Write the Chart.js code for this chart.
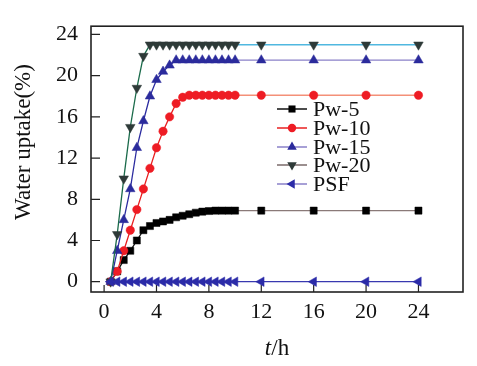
<!DOCTYPE html>
<html>
<head>
<meta charset="utf-8">
<script src="https://cdn.jsdelivr.net/npm/chart.js@4/dist/chart.umd.min.js"></script>
<style>
    html, body { margin: 0; padding: 0; background: #fff; }
</style>
</head>
<body>
<canvas id="chart" width="477" height="366"></canvas>
<script>
const hours = [0.5, 1, 1.5, 2, 2.5, 3, 3.5, 4, 4.5, 5, 5.5, 6, 6.5, 7, 7.5, 8, 8.5, 9, 9.5, 10, 12, 16, 20, 24];

const pw5  = [0, 1.0, 2.1, 3.0, 4.0, 5.0, 5.4, 5.7, 5.85, 6.0, 6.25, 6.4, 6.55, 6.7, 6.8, 6.86, 6.9, 6.9, 6.9, 6.9, 6.9, 6.9, 6.9, 6.9];
const pw10 = [0, 1.0, 3.0, 5.0, 7.0, 9.0, 11.0, 13.0, 14.6, 16.0, 17.3, 17.9, 18.1, 18.1, 18.1, 18.1, 18.1, 18.1, 18.1, 18.1, 18.1, 18.1, 18.1, 18.1];
const pw15 = [0, 3.0, 6.0, 9.0, 13.0, 15.6, 18.0, 19.6, 20.4, 21.0, 21.5, 21.5, 21.5, 21.5, 21.5, 21.5, 21.5, 21.5, 21.5, 21.5, 21.5, 21.5, 21.5, 21.5];
const pw20 = [0, 4.6, 10.0, 15.0, 18.8, 21.9, 23.0, 23.0, 23.0, 23.0, 23.0, 23.0, 23.0, 23.0, 23.0, 23.0, 23.0, 23.0, 23.0, 23.0, 23.0, 23.0, 23.0, 23.0];
const psf  = [0, 0, 0, 0, 0, 0, 0, 0, 0, 0, 0, 0, 0, 0, 0, 0, 0, 0, 0, 0, 0, 0, 0, 0];

const seriesNames = ['Pw-5', 'Pw-10', 'Pw-15', 'Pw-20', 'PSF'];
const xTicks = [0, 4, 8, 12, 16, 20, 24];
const yTicks = [0, 4, 8, 12, 16, 20, 24];

const FONT = '"Liberation Serif", "Times New Roman", serif';

// line colour before / after the 10 h point, marker look, legend line colour
const styles = [
    { early: '#111111', late: '#8a7a78', marker: '#000000', shape: 'rect', radius: 5, rot: 0, legend: '#111111' },
    { early: '#e82020', late: '#f49078', marker: '#ee1c24', shape: 'circle', radius: 4.2, rot: 0, legend: '#e82020' },
    { early: '#2c2ca0', late: '#8a80c8', marker: '#2b2b9c', shape: 'triangle', radius: 5.5, rot: 0, legend: '#8a80c8' },
    { early: '#1b6b4b', late: '#50b8e0', marker: '#2e3a38', shape: 'triangle', radius: 5.5, rot: 180, legend: '#7a6a6a' },
    { early: '#3030b0', late: '#3838b0', marker: '#2b2ba8', shape: 'triangle', radius: 5.5, rot: -90, legend: '#8a80c8' }
];

const values = [pw5, pw10, pw15, pw20, psf];

const datasets = values.map((vals, i) => {
    const s = styles[i];
    return {
        label: seriesNames[i],
        data: hours.map((h, k) => ({ x: h, y: vals[k] })),
        borderColor: s.early,
        borderWidth: 1.3,
        backgroundColor: s.marker,
        pointBackgroundColor: s.marker,
        pointBorderColor: s.marker,
        pointBorderWidth: 0.5,
        pointStyle: s.shape,
        pointRadius: s.radius,
        pointRotation: s.rot,
        order: 4 - i,
        segment: {
            borderColor: ctx => ctx.p0.parsed.x >= 10 ? s.late : s.early
        }
    };
});

function drawMarker(ctx, shape, x, y, r, rot, color) {
    ctx.save();
    ctx.translate(x, y);
    ctx.rotate(rot * Math.PI / 180);
    ctx.fillStyle = color;
    ctx.beginPath();
    if (shape === 'rect') {
        const h = r * Math.SQRT1_2;
        ctx.rect(-h, -h, 2 * h, 2 * h);
    } else if (shape === 'circle') {
        ctx.arc(0, 0, r, 0, Math.PI * 2);
    } else {
        ctx.moveTo(0, -r);
        ctx.lineTo(r * Math.sin(Math.PI / 3), r * 0.5);
        ctx.lineTo(-r * Math.sin(Math.PI / 3), r * 0.5);
        ctx.closePath();
    }
    ctx.fill();
    ctx.restore();
}

const framePlugin = {
    id: 'frame',
    beforeDatasetsDraw(chart) {
        const { ctx, chartArea: a, scales } = chart;
        ctx.save();
        ctx.strokeStyle = '#222';
        ctx.lineWidth = 1.6;
        ctx.strokeRect(a.left, a.top, a.right - a.left, a.bottom - a.top);
        ctx.lineWidth = 1.2;
        ctx.beginPath();
        yTicks.forEach(v => {
            const y = scales.y.getPixelForValue(v);
            ctx.moveTo(a.left, y);
            ctx.lineTo(a.left + 9, y);
        });
        xTicks.forEach(v => {
            const x = scales.x.getPixelForValue(v);
            ctx.moveTo(x, a.bottom);
            ctx.lineTo(x, a.bottom - 7);
        });
        ctx.stroke();
        ctx.restore();
    }
};

const legendPlugin = {
    id: 'innerLegend',
    afterDatasetsDraw(chart) {
        const ctx = chart.ctx;
        const x0 = 277, x1 = 307, rowY = [109, 128, 147, 165, 184];
        ctx.save();
        ctx.font = '22px ' + FONT;
        ctx.textBaseline = 'middle';
        seriesNames.forEach((name, i) => {
            const s = styles[i];
            const y = rowY[i];
            ctx.strokeStyle = s.legend;
            ctx.lineWidth = 1.5;
            ctx.beginPath();
            ctx.moveTo(x0, y);
            ctx.lineTo(x1, y);
            ctx.stroke();
            drawMarker(ctx, s.shape, (x0 + x1) / 2, y, s.radius, s.rot, s.marker);
            ctx.fillStyle = '#111';
            ctx.fillText(name, 313, y + 1);
        });
        ctx.restore();
    }
};

// axis titles: x one has an italic "t", y one sits a little above centre
const titlePlugin = {
    id: 'axisTitles',
    afterDraw(chart) {
        const ctx = chart.ctx;
        ctx.save();
        ctx.fillStyle = '#111';
        ctx.textBaseline = 'middle';
        const italic = 'italic 23px ' + FONT;
        const normal = '23px ' + FONT;
        ctx.font = italic;
        const w1 = ctx.measureText('t').width;
        ctx.font = normal;
        const w2 = ctx.measureText('/h').width;
        const cx = (chart.chartArea.left + chart.chartArea.right) / 2;
        const x = cx - (w1 + w2) / 2;
        ctx.font = italic;
        ctx.fillText('t', x, 349);
        ctx.font = normal;
        ctx.fillText('/h', x + w1, 349);

        ctx.translate(24, 142);
        ctx.rotate(-Math.PI / 2);
        ctx.textAlign = 'center';
        ctx.fillText('Water uptake(%)', 0, 0);
        ctx.restore();
    }
};

new Chart(document.getElementById('chart'), {
    type: 'line',
    data: { datasets: datasets },
    options: {
        responsive: false,
        animation: false,
        devicePixelRatio: 1,
        layout: { padding: { top: 12, right: 14, left: 0, bottom: 0 } },
        plugins: {
            legend: { display: false },
            tooltip: { enabled: false }
        },
        scales: {
            x: {
                type: 'linear',
                min: -1,
                max: 27.4,
                grid: { display: false, drawTicks: false },
                border: { display: false },
                afterBuildTicks: scale => { scale.ticks = xTicks.map(v => ({ value: v })); },
                afterFit: scale => { scale.height = 74; },
                ticks: {
                    padding: 7,
                    maxRotation: 0,
                    color: '#111',
                    font: { family: FONT, size: 22 }
                }
            },
            y: {
                type: 'linear',
                min: -1,
                max: 24.8,
                grid: { display: false, drawTicks: false },
                border: { display: false },
                afterBuildTicks: scale => { scale.ticks = yTicks.map(v => ({ value: v })); },
                afterFit: scale => { scale.width = 91; },
                ticks: {
                    padding: 13,
                    color: '#111',
                    font: { family: FONT, size: 22 }
                }
            }
        }
    },
    plugins: [framePlugin, legendPlugin, titlePlugin]
});
</script>
</body>
</html>
